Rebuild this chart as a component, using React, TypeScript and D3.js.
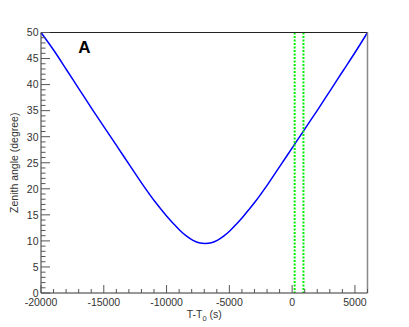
import React from "react";
import * as d3 from "d3";

const times = [-20000, -18930, -17930, -16930, -15930, -14930, -13930, -12930, -11930, -11430, -10930, -10430, -9930, -9430, -8930, -8430, -7930, -7430, -6930, -6430, -5930, -5430, -4930, -4430, -3930, -3430, -2930, -2430, -1930, -930, 70, 1070, 2070, 3070, 4070, 5070, 6000];
const zenith = [50, 46.4, 42.7, 39.0, 35.3, 31.7, 28.1, 24.5, 20.9, 19.2, 17.55, 16.05, 14.6, 13.25, 12.0, 10.95, 10.15, 9.65, 9.5, 9.65, 10.15, 10.95, 12.0, 13.25, 14.6, 16.05, 17.55, 19.2, 20.9, 24.5, 28.1, 31.7, 35.3, 39.0, 42.7, 46.4, 50];
const markerTimes = [200, 900];
const xTicks = [-20000, -15000, -10000, -5000, 0, 5000];
const yTicks = [0, 5, 10, 15, 20, 25, 30, 35, 40, 45, 50];
const panelLabel = "A";

const W = 409, H = 327;
const L = 41, R = 367.5, T = 32.5, B = 293;

export default function App() {
  const x = d3.scaleLinear().domain([-20000, 6000]).range([L, R]);
  const y = d3.scaleLinear().domain([0, 50]).range([B, T]);
  const pts: [number, number][] = times.map((t, i) => [t, zenith[i]]);
  const line = d3.line<[number, number]>().x(d => x(d[0])).y(d => y(d[1])).curve(d3.curveCatmullRom.alpha(0.5));
  const xMinor = d3.range(-20000, 6001, 1000);
  const yMinor = d3.range(0, 50.01, 1);
  const font = "'Liberation Sans', Arial, sans-serif";
  return (
    <div style={{ position: "fixed", left: 0, top: 0 }}>
      <svg width={W} height={H} style={{ display: "block", background: "#fff" }}>
        <path d={line(pts) || ""} fill="none" stroke="#0000ff" strokeWidth={1.5} />
        {markerTimes.map(t => (
          <line key={t} x1={x(t)} x2={x(t)} y1={T} y2={B} stroke="#00ee00" strokeWidth={2} strokeDasharray="2,1.5" />
        ))}
        <line x1={L} x2={R} y1={T} y2={T} stroke="#222" strokeWidth={1} />
        <line x1={R} x2={R} y1={T} y2={B} stroke="#888" strokeWidth={1.5} />
        <line x1={L} x2={L} y1={T} y2={B} stroke="#333" strokeWidth={1} />
        <line x1={L} x2={R} y1={B} y2={B} stroke="#333" strokeWidth={1} />
        {xMinor.map(v => {
          const major = v % 5000 === 0;
          return <line key={"xm" + v} x1={x(v)} x2={x(v)} y1={B} y2={B - (major ? 8 : 4)} stroke="#555" strokeWidth={1} />;
        })}
        {yMinor.map(v => {
          const major = v % 5 === 0;
          return <line key={"ym" + v} x1={L} x2={L + (major ? 9 : 4.5)} y1={y(v)} y2={y(v)} stroke="#555" strokeWidth={1} />;
        })}
        {xTicks.map(v => (
          <text key={"xt" + v} x={x(v)} y={306} textAnchor="middle" fontFamily={font} fontSize={10.5} fill="#333">{String(v)}</text>
        ))}
        {yTicks.map(v => (
          <text key={"yt" + v} x={38.5} y={y(v) + 3.8} textAnchor="end" fontFamily={font} fontSize={10.5} fill="#333">{String(v)}</text>
        ))}
        <text x={(L + R) / 2} y={318} textAnchor="middle" fontFamily={font} fontSize={10.5} fill="#333">
          T-T<tspan fontSize={7.5} dy={3}>0</tspan><tspan dy={-3}> (s)</tspan>
        </text>
        <text transform={`translate(18,${(T + B) / 2}) rotate(-90)`} textAnchor="middle" fontFamily={font} fontSize={10.5} fill="#333">Zenith angle (degree)</text>
        <text x={84.5} y={53} textAnchor="middle" fontFamily={font} fontWeight="bold" fontSize={17} fill="#000">{panelLabel}</text>
      </svg>
    </div>
  );
}
